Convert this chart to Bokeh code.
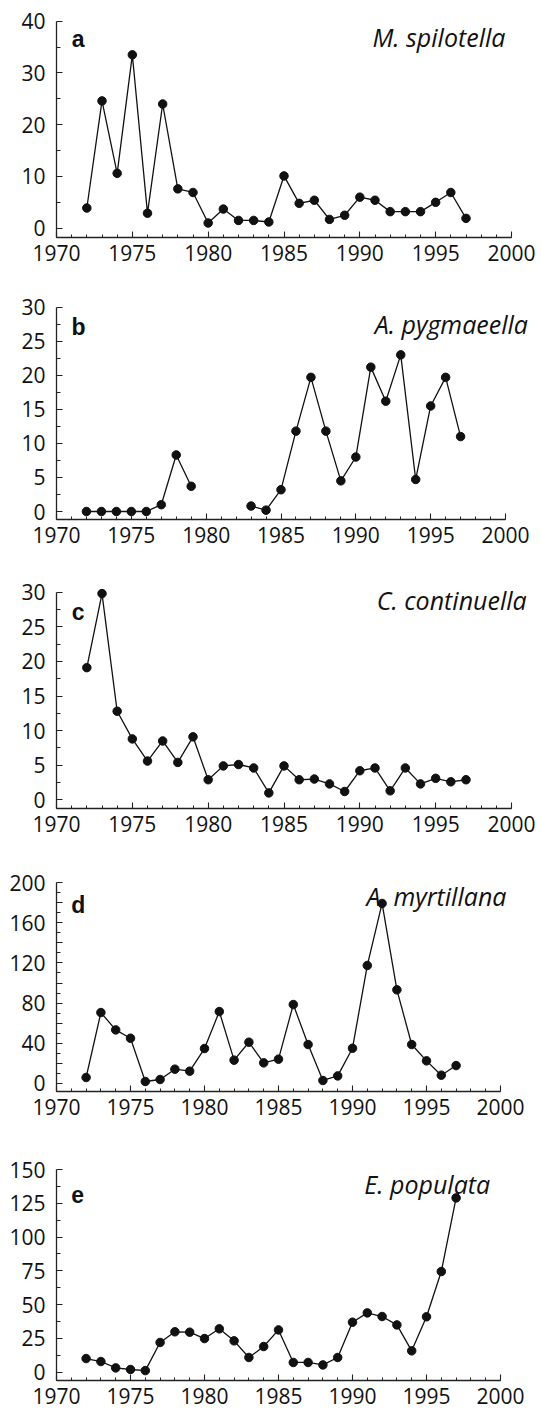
import math
from bokeh.plotting import figure
from bokeh.layouts import column
from bokeh.models import Range1d, FixedTicker, Label, ColumnDataSource
from bokeh.embed import file_html
from bokeh.resources import INLINE

nan = math.nan

years = list(range(1972, 1998))

spilotella = [3.9, 24.6, 10.6, 33.5, 2.9, 24.0, 7.6, 6.9, 1.0, 3.7, 1.5, 1.5, 1.2,
              10.1, 4.8, 5.4, 1.7, 2.5, 6.0, 5.4, 3.2, 3.2, 3.2, 5.0, 6.9, 1.9]
pygmaeella = [0, 0, 0, 0, 0, 1.0, 8.3, 3.7, nan, nan, nan, 0.8, 0.2,
              3.2, 11.8, 19.7, 11.8, 4.5, 8.0, 21.2, 16.2, 23.0, 4.7, 15.5, 19.7, 11.0]
continuella = [19.1, 29.8, 12.8, 8.8, 5.6, 8.5, 5.4, 9.1, 2.9, 4.9, 5.1, 4.6, 1.0,
               4.9, 2.9, 3.0, 2.3, 1.2, 4.2, 4.6, 1.3, 4.6, 2.3, 3.1, 2.6, 2.9]
myrtillana = [5.7, 70.5, 53.2, 44.9, 1.7, 3.7, 14.0, 12.0, 34.6, 71.5, 23.0, 40.9, 20.3,
              24.0, 78.5, 38.6, 2.7, 7.3, 34.9, 117.5, 179.4, 93.2, 38.6, 22.3, 8.0, 17.6]
populata = [10.1, 7.9, 3.2, 2.0, 1.2, 22.0, 29.9, 29.6, 24.9, 32.1, 23.2, 10.9, 19.0,
            31.3, 7.2, 7.2, 5.4, 10.9, 37.0, 43.9, 41.2, 35.0, 15.8, 41.0, 74.5, 129.0]

species = ["M. spilotella", "A. pygmaeella", "C. continuella", "A. myrtillana", "E. populata"]
letters = ["a", "b", "c", "d", "e"]
series = [spilotella, pygmaeella, continuella, myrtillana, populata]

x_ticks = [1970, 1975, 1980, 1985, 1990, 1995, 2000]
x_minor = list(range(1970, 2001))

y_ticks = [
    [0, 10, 20, 30, 40],
    [0, 5, 10, 15, 20, 25, 30],
    [0, 5, 10, 15, 20, 25, 30],
    [0, 20, 40, 60, 80, 100, 120, 140, 160, 180, 200],
    [0, 25, 50, 75, 100, 125, 150],
]
y_labelled = [
    [0, 10, 20, 30, 40],
    [0, 5, 10, 15, 20, 25, 30],
    [0, 5, 10, 15, 20, 25, 30],
    [0, 40, 80, 120, 160, 200],
    [0, 25, 50, 75, 100, 125, 150],
]
y_minor = [
    [5, 15, 25, 35],
    [2.5, 7.5, 12.5, 17.5, 22.5, 27.5],
    [2.5, 7.5, 12.5, 17.5, 22.5, 27.5],
    [10, 30, 50, 70, 90, 110, 130, 150, 170, 190],
    [12.5, 37.5, 62.5, 87.5, 112.5, 137.5],
]
y_top = [40, 30, 30, 200, 150]

# ---- layout (page pixels) ----
PAGE_W = 541
LEFT = 56
fig_top = [0, 280, 565, 850, 1135, 1409]      # figure boundaries
tick_top_px = [20.7, 306.7, 591.7, 882.3, 1169.0]   # pixel row of top labelled tick
zero_px = [227.7, 511.0, 799.3, 1082.7, 1371.7]     # pixel row of zero
axis_px = [237, 519, 808, 1091, 1380]               # pixel row of x axis line
axis_end_px = [511, 505, 511, 500, 500]             # pixel col of year 2000

letter_pos = [(1971, 36.5), (1971, 27.1), (1971, 27.1), (1971, 178.3), (1971, 131.5)]
name_pos = [(1999.6, 36.9), (2001.5, 27.6), (2001.0, 28.9), (2000.4, 187.3), (1999.3, 139.6)]

FONT = "Open Sans"
INK = "#111111"

figs = []
for i in range(5):
    F = fig_top[i]
    H = fig_top[i + 1] - F
    frame_h = axis_px[i] - F
    ppu = (zero_px[i] - tick_top_px[i]) / y_top[i]
    y_start = -(axis_px[i] - zero_px[i]) / ppu
    y_end = y_top[i] + (tick_top_px[i] - F) / ppu
    ppy = (axis_end_px[i] - LEFT) / 30.0
    x_end = 1970 + (PAGE_W - LEFT) / ppy

    p = figure(width=PAGE_W, height=H, output_backend="svg", toolbar_location=None,
               x_range=Range1d(1970, x_end), y_range=Range1d(y_start, y_end),
               min_border_left=LEFT, min_border_right=0,
               min_border_top=0, min_border_bottom=H - frame_h)
    p.outline_line_color = None
    p.xgrid.visible = False
    p.ygrid.visible = False
    p.background_fill_color = "white"
    p.border_fill_color = "white"

    src = ColumnDataSource(dict(x=years, y=series[i]))
    p.line("x", "y", source=src, line_color=INK, line_width=1.3)
    p.scatter("x", "y", source=src, size=8.5, fill_color=INK, line_color=INK)

    for ax in (p.xaxis[0], p.yaxis[0]):
        ax.axis_line_color = "#222222"
        ax.axis_line_width = 1.3
        ax.major_tick_line_color = "#222222"
        ax.minor_tick_line_color = "#222222"
        ax.major_tick_line_width = 1.1
        ax.minor_tick_line_width = 1.0
        ax.major_tick_out = 0
        ax.minor_tick_out = 0
        ax.major_label_text_font = FONT
        ax.major_label_text_font_size = "21px"
        ax.major_label_text_color = INK

    p.xaxis.ticker = FixedTicker(ticks=x_ticks, minor_ticks=x_minor)
    p.xaxis.bounds = (1970, 2000)
    p.xaxis.major_tick_in = 6
    p.xaxis.minor_tick_in = 3
    p.xaxis.major_label_standoff = 7
    p.xaxis.major_label_text_line_height = 0.75

    p.yaxis.ticker = FixedTicker(ticks=y_ticks[i], minor_ticks=y_minor[i])
    p.yaxis.bounds = (y_start, y_top[i])
    p.yaxis.major_label_overrides = {t: (str(t) if t in y_labelled[i] else "") for t in y_ticks[i]}
    p.yaxis.major_tick_in = 6
    p.yaxis.minor_tick_in = 4
    p.yaxis.major_label_standoff = 11

    lx, ly = letter_pos[i]
    p.add_layout(Label(x=lx, y=ly, text=letters[i], text_font="Liberation Sans",
                       text_font_style="bold", text_font_size="23px", text_color=INK,
                       text_align="left", text_baseline="alphabetic"))
    nx, ny = name_pos[i]
    p.add_layout(Label(x=nx, y=ny, text=species[i], text_font=FONT,
                       text_font_style="italic", text_font_size="25px", text_color=INK,
                       text_align="right", text_baseline="alphabetic"))
    figs.append(p)

layout = column(*figs, spacing=0)
open("out.html", "w").write(file_html(layout, INLINE))
